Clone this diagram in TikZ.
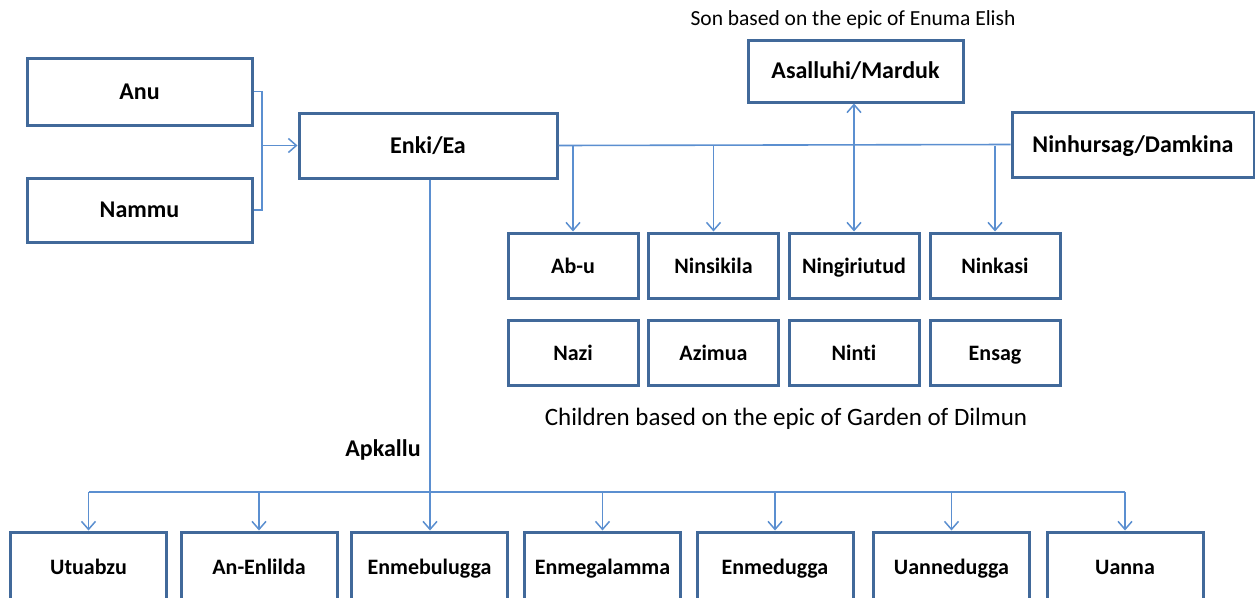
\documentclass[tikz,border=0pt]{standalone}
\usepackage{fontspec}
\setmainfont{Carlito}[Ligatures=NoCommon]
\usetikzlibrary{arrows.meta}
\definecolor{boxc}{HTML}{41699A}
\definecolor{linec}{HTML}{5B8FD0}
\tikzset{
  box/.style={draw=boxc, line width=3pt, fill=white, inner sep=0pt, text height=15.5pt, text depth=0.5pt, font=\fontsize{24}{28}\selectfont\bfseries},
  bigbox/.style={box, minimum width=#1, minimum height=65pt},
  kid/.style={box, minimum width=130pt, minimum height=65pt, font=\fontsize{22}{26}\selectfont\bfseries},
  apk/.style={box, minimum width=156pt, minimum height=70pt, font=\fontsize{22}{26}\selectfont\bfseries},
  conn/.style={draw=linec, line width=1.6pt},
  arr/.style={conn, -{Straight Barb[length=8pt,width=14pt,line width=1.5pt]}},
  darr/.style={conn, {Straight Barb[length=8pt,width=14pt,line width=1.5pt]}-{Straight Barb[length=8pt,width=14pt,line width=1.5pt]}},
  cap/.style={inner sep=0pt, font=\fontsize{#1}{28}\selectfont}
}
\begin{document}
\begin{tikzpicture}[x=1pt,y=-1pt]
\useasboundingbox (0,0) rectangle (1255,597);
\clip (0,0) rectangle (1255,597);
% top-left
\node[bigbox=225pt, minimum height=67pt] (anu) at (139.5,91.5) {Anu};
\node[bigbox=225pt, minimum height=64pt] (nammu) at (139.5,210) {Nammu};
\node[bigbox=258pt] (enki) at (428,145.5) {Enki/Ea};
\node[bigbox=215pt, minimum height=62pt] (asal) at (855.5,71) {Asalluhi/Marduk};
\node[bigbox=242pt] (ninh) at (1133,144.5) {Ninhursag/Damkina};
\node[cap=21.5] (son) at (853,20) {Son based on the epic of Enuma Elish};
% children
\node[kid] (abu) at (573,265.5) {Ab-u};
\node[kid] (nins) at (713.5,265.5) {Ninsikila};
\node[kid] (ning) at (854,265.5) {Ningiriutud};
\node[kid] (nink) at (995,265.5) {Ninkasi};
\node[kid] (nazi) at (573,352.5) {Nazi};
\node[kid] (azim) at (713.5,352.5) {Azimua};
\node[kid] (nint) at (854,352.5) {Ninti};
\node[kid] (ensa) at (995,352.5) {Ensag};
\node[cap=25] (child) at (786,419) {Children based on the epic of Garden of Dilmun};
% apkallu
\node[apk] (utu) at (88.5,567) {Utuabzu};
\node[apk] (anen) at (259,567) {An-Enlilda};
\node[apk] (enmb) at (429.5,567) {Enmebulugga};
\node[apk] (enmg) at (602.5,567) {Enmegalamma};
\node[apk] (enmd) at (775,567) {Enmedugga};
\node[apk] (uann) at (951.5,567) {Uannedugga};
\node[apk] (uanna) at (1125,567) {Uanna};
\node[inner sep=0pt, font=\fontsize{24}{28}\selectfont\bfseries] (apklbl) at (383,450) {Apkallu};
% connectors
\coordinate (j) at (262,145.5);
\draw[conn] (anu.east) -| (j) |- (nammu.east);
\draw[arr] (j) -- (enki.west);
\draw[conn] (enki.east) -- (ninh.west);
\draw[arr] (abu.north |- enki.east) -- (abu.north);
\draw[arr] (nins.north |- enki.east) -- (nins.north);
\draw[arr] (nink.north |- enki.east) -- (nink.north);
\draw[darr] (ning.north) -- (ning.north |- asal.south);
\coordinate (bj) at (430,492);
\draw[conn] (enki.south -| bj) -- (bj);
\draw[conn] (utu.north |- bj) -- (uanna.north |- bj);
\foreach \n in {utu,anen,enmg,enmd,uann,uanna} {
  \draw[arr] (\n.north |- bj) -- (\n.north);
}
\draw[arr] (bj) -- (bj |- enmb.north);
\end{tikzpicture}
\end{document}
